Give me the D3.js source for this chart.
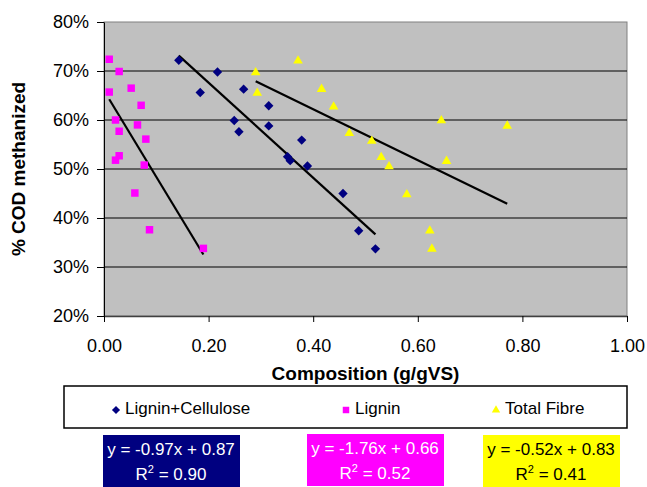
<!DOCTYPE html>
<html>
<head>
<meta charset="utf-8">
<script src="https://cdn.jsdelivr.net/npm/d3@7"></script>
<style>
  body { margin: 0; background: #fff; }
  text { font-family: "Liberation Sans", Arial, sans-serif; }
</style>
</head>
<body>
<div id="chart"></div>
<script>
// Series: Lignin+Cellulose
var ligCellX = [0.143, 0.184, 0.217, 0.249, 0.258, 0.267, 0.315, 0.315, 0.351, 0.356, 0.378, 0.389, 0.457, 0.487, 0.519];
var ligCellY = [0.722, 0.656, 0.698, 0.599, 0.576, 0.663, 0.629, 0.588, 0.525, 0.517, 0.559, 0.506, 0.450, 0.374, 0.337];

// Series: Lignin
var ligninX = [0.010, 0.029, 0.010, 0.052, 0.071, 0.022, 0.064, 0.029, 0.080, 0.029, 0.022, 0.077, 0.059, 0.087, 0.190];
var ligninY = [0.724, 0.699, 0.657, 0.665, 0.630, 0.600, 0.590, 0.577, 0.561, 0.527, 0.518, 0.508, 0.451, 0.376, 0.338];

// Series: Total Fibre
var fibreX = [0.290, 0.293, 0.371, 0.416, 0.439, 0.469, 0.512, 0.530, 0.545, 0.579, 0.623, 0.627, 0.645, 0.655, 0.771];
var fibreY = [0.697, 0.655, 0.721, 0.663, 0.627, 0.573, 0.557, 0.524, 0.505, 0.448, 0.374, 0.337, 0.599, 0.516, 0.588];

var seriesNames = ["Lignin+Cellulose", "Lignin", "Total Fibre"];
var slopes = [-0.97, -1.76, -0.52];
var intercepts = [0.87, 0.66, 0.83];
var equations = ["y = -0.97x + 0.87", "y = -1.76x + 0.66", "y = -0.52x + 0.83"];
var rSquared = ["0.90", "0.52", "0.41"];

var xTicks = [0, 0.2, 0.4, 0.6, 0.8, 1.0];
var yTicks = [0.2, 0.3, 0.4, 0.5, 0.6, 0.7, 0.8];

(function () {
  var Navy = "#000080";
  var Magenta = "#FF00FF";
  var Yellow = "#FFFF00";
  var colors = [Navy, Magenta, Yellow];
  var textColors = ["#fff", "#fff", "#000"];
  var symbols = [d3.symbolSquare, d3.symbolSquare, d3.symbolTriangle];
  var symbolSizes = [44, 56, 40];
  var rotations = [45, 0, 0];

  var xs = [ligCellX, ligninX, fibreX];
  var ys = [ligCellY, ligninY, fibreY];

  var width = 647, height = 487;
  var plot = { left: 104, right: 627, top: 22, bottom: 316 };

  var svg = d3
    .select("#chart")
    .append("svg")
    .attr("width", width)
    .attr("height", height);

  var x = d3.scaleLinear().domain([0, 1]).range([plot.left, plot.right]);
  var y = d3.scaleLinear().domain([0.2, 0.8]).range([plot.bottom, plot.top]);

  // plot background
  svg
    .append("rect")
    .attr("x", plot.left)
    .attr("y", plot.top)
    .attr("width", plot.right - plot.left)
    .attr("height", plot.bottom - plot.top)
    .attr("fill", "#C0C0C0")
    .attr("stroke", "#808080")
    .attr("stroke-width", 1);

  // horizontal gridlines
  svg
    .selectAll(".grid")
    .data(yTicks.slice(1, -1))
    .enter()
    .append("line")
    .attr("class", "grid")
    .attr("x1", plot.left)
    .attr("x2", plot.right)
    .attr("y1", function (d) { return y(d); })
    .attr("y2", function (d) { return y(d); })
    .attr("stroke", "#000")
    .attr("stroke-width", 1);

  // y axis
  var yAxis = svg
    .append("g")
    .attr("transform", "translate(" + plot.left + ",0)")
    .call(d3.axisLeft(y).tickValues(yTicks).tickFormat(d3.format(".0%")).tickSize(7).tickSizeOuter(0).tickPadding(8));
  yAxis.select(".domain").attr("stroke", "#000");
  yAxis.selectAll("text").style("font-size", "18px").attr("fill", "#000");

  // x axis
  var xAxis = svg
    .append("g")
    .attr("transform", "translate(0," + plot.bottom + ")")
    .call(d3.axisBottom(x).tickValues(xTicks).tickFormat(d3.format(".2f")).tickSize(6).tickSizeOuter(0).tickPadding(17));
  xAxis.select(".domain").attr("stroke", "#404040").attr("stroke-width", 1.5);
  xAxis.selectAll("text").style("font-size", "18px").attr("fill", "#000");

  // axis titles
  svg
    .append("text")
    .attr("x", (plot.left + plot.right) / 2)
    .attr("y", 380)
    .attr("text-anchor", "middle")
    .style("font-size", "19px")
    .style("font-weight", "bold")
    .text("Composition (g/gVS)");

  svg
    .append("text")
    .attr("transform", "translate(25," + (plot.top + plot.bottom) / 2 + ") rotate(-90)")
    .attr("text-anchor", "middle")
    .style("font-size", "19px")
    .style("font-weight", "bold")
    .text("% COD methanized");

  // trend lines
  var line = d3
    .line()
    .x(function (d) { return x(d[0]); })
    .y(function (d) { return y(d[1]); });

  seriesNames.forEach(function (name, i) {
    var ext = d3.extent(xs[i]);
    var pts = ext.map(function (v) { return [v, slopes[i] * v + intercepts[i]]; });
    svg
      .append("path")
      .attr("d", line(pts))
      .attr("fill", "none")
      .attr("stroke", "#000")
      .attr("stroke-width", 2.2);
  });

  // points
  seriesNames.forEach(function (name, i) {
    var pts = xs[i].map(function (v, j) { return [v, ys[i][j]]; });
    svg
      .append("g")
      .selectAll("path")
      .data(pts)
      .enter()
      .append("path")
      .attr("d", d3.symbol().type(symbols[i]).size(symbolSizes[i]))
      .attr("transform", function (d) {
        return "translate(" + x(d[0]) + "," + y(d[1]) + ") rotate(" + rotations[i] + ")";
      })
      .attr("fill", colors[i]);
  });

  // legend box
  svg
    .append("rect")
    .attr("x", 64)
    .attr("y", 386)
    .attr("width", 563)
    .attr("height", 42)
    .attr("fill", "#fff")
    .attr("stroke", "#000")
    .attr("stroke-width", 1.5);

  var legendX = [116, 346, 496];
  seriesNames.forEach(function (name, i) {
    svg
      .append("path")
      .attr("d", d3.symbol().type(symbols[i]).size(symbolSizes[i] * 0.75))
      .attr("transform", "translate(" + legendX[i] + ",410) rotate(" + rotations[i] + ")")
      .attr("fill", colors[i]);
    svg
      .append("text")
      .attr("x", legendX[i] + 9)
      .attr("y", 414)
      .style("font-size", "17px")
      .text(name);
  });

  // equation boxes
  var boxX = [103, 307, 483];
  var boxY = [435, 434, 435];
  seriesNames.forEach(function (name, i) {
    var cx = boxX[i] + 68;
    svg
      .append("rect")
      .attr("x", boxX[i])
      .attr("y", boxY[i])
      .attr("width", 137)
      .attr("height", 52)
      .attr("fill", colors[i]);
    svg
      .append("text")
      .attr("x", cx)
      .attr("y", boxY[i] + 20)
      .attr("text-anchor", "middle")
      .attr("fill", textColors[i])
      .style("font-size", "17px")
      .text(equations[i]);
    var r = svg
      .append("text")
      .attr("x", cx)
      .attr("y", boxY[i] + 45)
      .attr("text-anchor", "middle")
      .attr("fill", textColors[i])
      .style("font-size", "17px");
    r.append("tspan").text("R");
    r.append("tspan").attr("dy", -7).style("font-size", "11px").text("2");
    r.append("tspan").attr("dy", 7).text(" = " + rSquared[i]);
  });
})();
</script>
</body>
</html>
